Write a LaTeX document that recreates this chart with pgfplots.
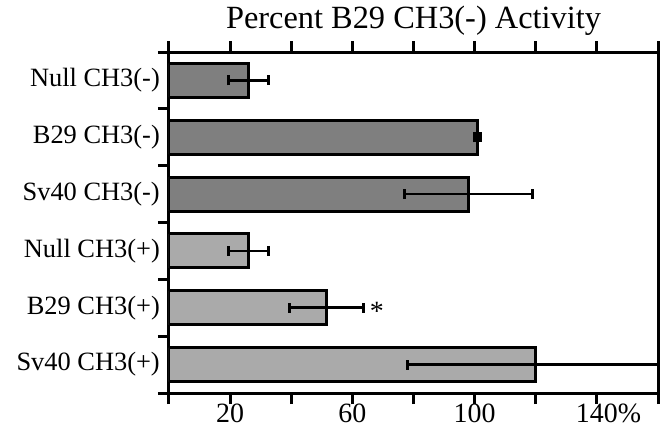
\documentclass[border=0pt]{standalone}
\usepackage{fontspec}
\setmainfont{Liberation Serif}
\usepackage{pgfplots}
\pgfplotsset{compat=1.18}
\definecolor{DarkBar}{HTML}{7F7F7F}
\definecolor{LightBar}{HTML}{AAAAAA}

\begin{document}
\begin{tikzpicture}
\useasboundingbox (-169bp,-36bp) rectangle (491bp,393bp);
\begin{axis}[
  at={(0,0)}, anchor=south west,
  scale only axis, width=489bp, height=341bp,
  xmin=0, xmax=160, ymin=-0.5, ymax=5.5, y dir=reverse,
  xbar, bar width=0.6, bar shift=0pt,
  axis line style={line width=3bp},
  every tick/.style={line width=3bp, black},
  tick align=outside,
  major tick length=11bp,
  xtick={0,20,...,160},
  xticklabels={,20,,60,,100,,140\rlap{\%},},
  xtick pos=both, xticklabel pos=lower,
  xticklabel style={font=\fontsize{28}{30}\selectfont, anchor=north, inner sep=0pt},
  ytick={-0.5,0.5,...,5.5},
  yticklabels={},
  ytick pos=left,
  extra y ticks={0,1,2,3,4,5},
  extra y tick labels={Null CH3(-),B29 CH3(-),Sv40 CH3(-),Null CH3(+),B29 CH3(+),Sv40 CH3(+)},
  extra y tick style={tick style={draw=none}},
  yticklabel style={font=\fontsize{26.5}{28}\selectfont, anchor=east, inner sep=0pt, xshift=2bp},
  title={Percent B29 CH3(-) Activity},
  title style={font=\fontsize{32.5}{34}\selectfont, at={(0.5,1)}, anchor=base, yshift=18bp, inner sep=0pt},
]
\addplot[fill=DarkBar, draw=black, line width=3bp,
  error bars/.cd, x dir=both, x explicit, error mark=|,
  error bar style={line width=2.6bp, black},
  error mark options={line width=3bp, black, mark size=5bp}]
 coordinates {(26,0) +- (6.5,0) (101,1) +- (1,0) (98,2) +- (21,0)};
\addplot[fill=LightBar, draw=black, line width=3bp,
  error bars/.cd, x dir=both, x explicit, error mark=|,
  error bar style={line width=2.6bp, black},
  error mark options={line width=3bp, black, mark size=5bp}]
 coordinates {(26,3) +- (6.5,0) (51.5,4) +- (12,0) (120,5) +- (42,0)};
\node[font=\fontsize{28}{30}\selectfont, inner sep=0pt, anchor=center] at (axis cs:68,4.07) {*};
\end{axis}
\end{tikzpicture}
\end{document}
